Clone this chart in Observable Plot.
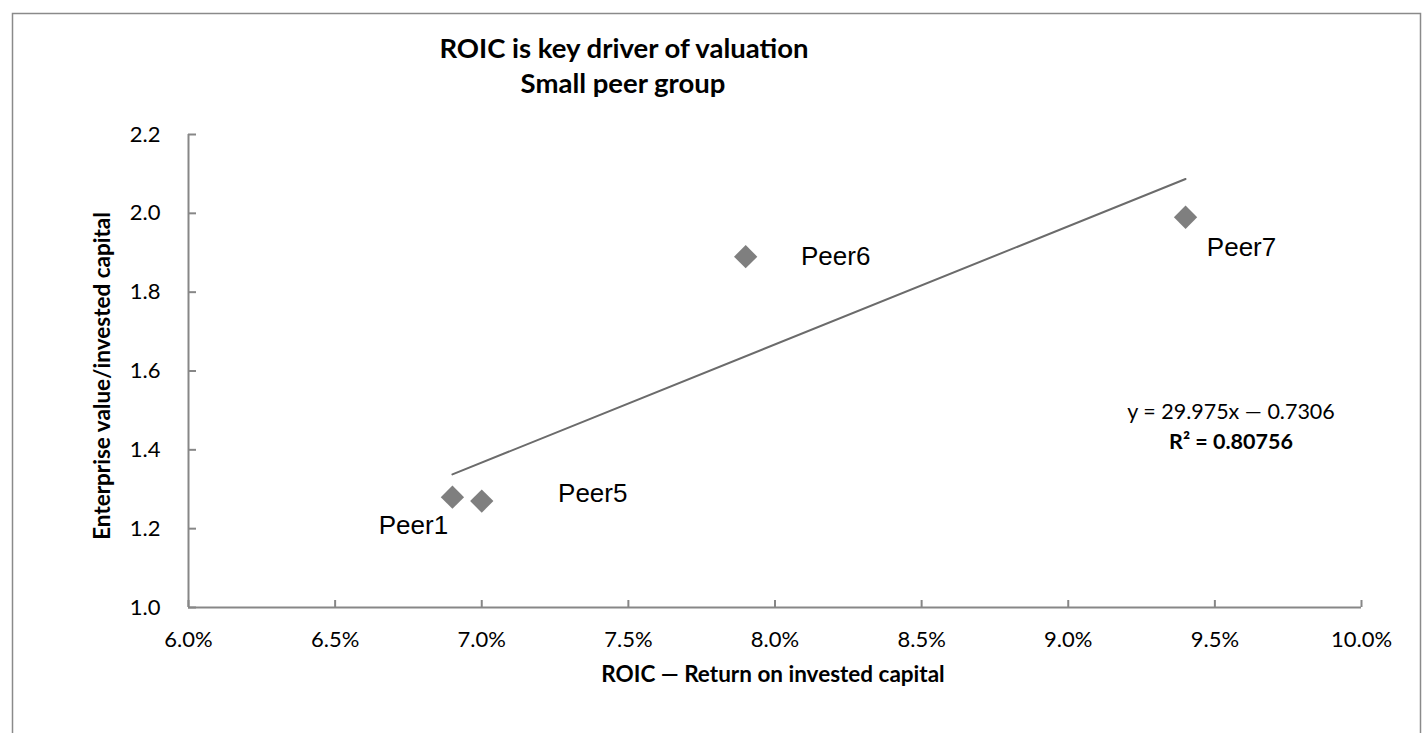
<!DOCTYPE html>
<html><head><meta charset="utf-8">
<script src="https://cdn.jsdelivr.net/npm/d3@7"></script>
<script src="https://cdn.jsdelivr.net/npm/@observablehq/plot@0.6"></script>
<style>body{margin:0;background:#fff} svg{display:block}</style>
</head><body><div id="chart"></div>
<script>
// ---- data ----
const peers = ["Peer1", "Peer5", "Peer6", "Peer7"];
const roic = [0.069, 0.070, 0.079, 0.094];
const evic = [1.28, 1.27, 1.89, 1.99];
const xTicks = [0.06, 0.065, 0.07, 0.075, 0.08, 0.085, 0.09, 0.095, 0.10];
const yTicks = [1.0, 1.2, 1.4, 1.6, 1.8, 2.0, 2.2];
const titleLines = ["ROIC is key driver of valuation", "Small peer group"];
const xLabel = "ROIC \u2014 Return on invested capital";
const yLabel = "Enterprise value/invested capital";
const equationLine = "y = 29.975x \u2014 0.7306";
const r2Line = "R\u00b2 = 0.80756";

const data = peers.map((p, i) => ({name: p, x: roic[i], y: evic[i]}));

const axisGray = "#878787";
const markGray = "#7f7f7f";
const lineGray = "#6b6b6b";
const calibri = "Lato, 'Open Sans', sans-serif";
const arial = "'Liberation Sans', Arial, sans-serif";

const label = (name, dx, dy) => Plot.text(data.filter(d => d.name === name), {
  x: "x", y: "y", text: "name", dx, dy,
  fontFamily: arial, fontSize: 26, fill: "#000"
});

const svg = Plot.plot({
  width: 1423, height: 733,
  marginLeft: 188, marginRight: 62, marginTop: 134, marginBottom: 126,
  style: {fontFamily: calibri, fontSize: "22px", background: "#fff", color: "#000"},
  x: {domain: [0.06, 0.10]},
  y: {domain: [1.0, 2.2]},
  marks: [
    Plot.ruleY([1.0], {stroke: axisGray, strokeWidth: 2}),
    Plot.ruleX([0.06], {stroke: axisGray, strokeWidth: 2}),
    Plot.axisX({ticks: xTicks, tickFormat: d => (d * 100).toFixed(1) + "%",
      tickSize: -7, tickPadding: 31, stroke: axisGray, strokeWidth: 2, fill: "#000", label: null}),
    Plot.axisY({ticks: yTicks, tickFormat: d => d.toFixed(1),
      tickSize: -8, tickPadding: 36, stroke: axisGray, strokeWidth: 2, fill: "#000", label: null}),
    Plot.linearRegressionY(data, {x: "x", y: "y", ci: 0, stroke: lineGray, strokeWidth: 2}),
    Plot.dot(data, {x: "x", y: "y", symbol: "diamond2", r: 10.5, fill: markGray, stroke: null}),
    label("Peer1", -39, 29),
    label("Peer5", 111, -7),
    label("Peer6", 90, 0),
    label("Peer7", 56, 30)
  ]
});

const s = d3.select(svg);
s.insert("rect", ":first-child")
  .attr("x", 12.5).attr("y", 13.5).attr("width", 1408).attr("height", 800)
  .attr("fill", "none").attr("stroke", "#8a8a8a").attr("stroke-width", 1.5);

const addText = (txt, x, y, opts = {}) => s.append("text")
  .attr("x", x).attr("y", y)
  .attr("text-anchor", "middle")
  .attr("font-family", opts.family || calibri)
  .attr("font-size", opts.size || 19)
  .attr("font-weight", opts.weight || "normal")
  .attr("fill", "#000")
  .attr("transform", opts.rotate ? `rotate(-90 ${x} ${y})` : null)
  .text(txt);

addText(titleLines[0], 624, 58, {size: 27.5, weight: "bold"});
addText(titleLines[1], 623, 93, {size: 27.5, weight: "bold"});
addText(xLabel, 773, 682, {size: 22.5, weight: "bold"});
addText(yLabel, 110, 376, {size: 22.5, weight: "bold", rotate: true});
addText(equationLine, 1231, 419, {size: 21.5});
addText(r2Line, 1231, 449, {size: 21.5, weight: "bold"});

document.getElementById("chart").append(svg);
</script>
</body></html>
